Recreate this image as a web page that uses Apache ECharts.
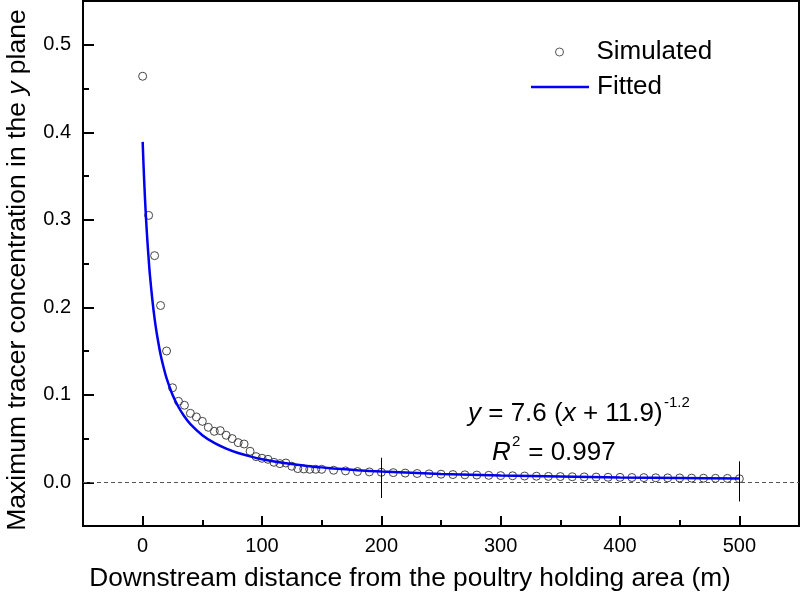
<!DOCTYPE html>
<html>
<head>
<meta charset="utf-8">
<script src="https://cdn.jsdelivr.net/npm/echarts@6/dist/echarts.min.js"></script>
<style>html,body{margin:0;padding:0;background:#fff}#c{width:800px;height:600px}</style>
</head>
<body>
<div id="c"></div>
<script>
// Simulated points (x in m, y = max tracer concentration)
const simX = [0,5,10,15,20,25,30,35,40,45,50,55,60,65,70,75,80,85,90,95,100,105,110,115,120,125,130,135,140,145,150,
  160,170,180,190,200,210,220,230,240,250,260,270,280,290,300,310,320,330,340,350,360,370,380,390,400,410,420,430,440,450,460,470,480,490,500];
const simY = [0.464,0.305,0.259,0.202,0.150,0.108,0.0925,0.088,0.0788,0.0746,0.0696,0.0628,0.0582,0.059,0.0537,0.0499,0.0453,0.0437,0.0354,0.0293,0.0274,0.0262,0.0228,0.0213,0.022,0.0183,0.0156,0.0152,0.0148,0.0148,0.0148,
  0.0137,0.013,0.0122,0.0118,0.0114,0.0110,0.0105,0.0100,0.0096,0.0092,0.0088,0.0085,0.0082,0.0079,0.0076,0.0074,0.0071,0.0069,0.0067,0.0065,0.0063,0.0061,0.0059,0.0057,0.0056,0.0054,0.0053,0.0051,0.0050,0.0049,0.0047,0.0046,0.0045,0.0044,0.0040];
// Fitted curve samples
const fitX = [0,1,2,3,4,5,6,8,10,12,15,18,20,25,30,35,40,50,60,70,80,90,100,120,140,150,160,180,200,250,300,350,400,450,500];
const fitY = [0.389,0.353,0.323,0.297,0.275,0.2555,0.238,0.210,0.187,0.1685,0.146,0.1288,0.119,0.100,0.086,0.0751,0.0665,0.0538,0.0450,0.0385,0.0335,0.0296,0.0264,0.0217,0.0183,0.0170,0.0158,0.0138,0.0123,0.0095,0.0077,0.0065,0.0055,0.0048,0.0043];
// Vertical marker segments [x, yLow, yHigh]
const markers = [[200,-0.018,0.028],[500,-0.022,0.024]];
// Tick values
const xMajor = [0,100,200,300,400,500];
const xMinor = [50,150,250,350,450];
const yMajor = [0,0.1,0.2,0.3,0.4,0.5];
const yMinor = [0.05,0.15,0.25,0.35,0.45];

const FONT = 'Liberation Sans, Arial, sans-serif';
const chart = echarts.init(document.getElementById('c'), null, {renderer:'canvas'});
const tickLbl = {color:'#000', fontSize:20, fontFamily:FONT};
const baseAxis = {
  splitLine:{show:false}, axisLine:{show:false, onZero:false}
};
chart.setOption({
  animation:false,
  backgroundColor:'#fff',
  grid:{left:83, right:1, top:1, bottom:74, show:true, borderColor:'#000', borderWidth:2, backgroundColor:'transparent'},
  xAxis:[
    Object.assign({type:'value', min:-50, max:550, position:'bottom',
      axisTick:{show:true, inside:true, length:10, customValues:xMajor, lineStyle:{color:'#000', width:2}},
      axisLabel:Object.assign({customValues:xMajor, margin:10, formatter:v=>String(v)}, tickLbl)}, baseAxis),
    Object.assign({type:'value', min:-50, max:550, position:'bottom',
      axisTick:{show:true, inside:true, length:6, customValues:xMinor, lineStyle:{color:'#000', width:2}},
      axisLabel:{show:false}}, baseAxis)
  ],
  yAxis:[
    Object.assign({type:'value', min:-0.05, max:0.55, position:'left',
      axisTick:{show:true, inside:true, length:11, customValues:yMajor, lineStyle:{color:'#000', width:2}},
      axisLabel:Object.assign({customValues:yMajor, margin:12, formatter:v=>v.toFixed(1)}, tickLbl)}, baseAxis),
    Object.assign({type:'value', min:-0.05, max:0.55, position:'left',
      axisTick:{show:true, inside:true, length:6, customValues:yMinor, lineStyle:{color:'#000', width:2}},
      axisLabel:{show:false}}, baseAxis)
  ],
  legend:[
    {
      left:555, top:39, padding:0, itemWidth:58, itemHeight:8,
      textStyle:{fontSize:26, fontFamily:FONT, color:'#000', lineHeight:26, padding:[0,0,0,3]},
      data:[{name:'Simulated', icon:'circle', itemStyle:{color:'rgba(255,255,255,0)', borderColor:'#555', borderWidth:1}}]
    },
    {
      left:531, top:74, padding:0, itemWidth:58, itemHeight:2.5,
      textStyle:{fontSize:26, fontFamily:FONT, color:'#000', lineHeight:26, padding:[0,0,0,3]},
      data:[{name:'Fitted', icon:'rect', itemStyle:{color:'#0000f0'}}]
    }
  ],
  series:[
    {
      name:'Simulated', type:'scatter', xAxisIndex:0, yAxisIndex:0,
      symbol:'circle', symbolSize:8,
      itemStyle:{color:'rgba(255,255,255,0)', borderColor:'#444', borderWidth:1, opacity:1},
      data: simX.map((x,i)=>[x, simY[i]]),
      markLine:{silent:true, symbol:'none', label:{show:false},
        lineStyle:{type:'solid', color:'#000', width:1},
        data: markers.map(m=>[{coord:[m[0],m[1]]},{coord:[m[0],m[2]]}])}
    },
    {
      name:'Fitted', type:'line', xAxisIndex:0, yAxisIndex:0,
      showSymbol:false, symbol:'none', smooth:0.3,
      lineStyle:{color:'#0000f0', width:2.5}, itemStyle:{color:'#0000f0'},
      data: fitX.map((x,i)=>[x, fitY[i]]),
      markLine:{silent:true, symbol:'none', label:{show:false},
        lineStyle:{type:[4,3], color:'#555', width:1},
        data:[{yAxis:0}]}
    }
  ],
  graphic:[
    {type:'text', x:410, y:579, style:{text:'Downstream distance from the poultry holding area (m)', fontSize:26.3, fontFamily:FONT, fill:'#000', align:'center', verticalAlign:'middle'}},
    {type:'text', x:18, y:270, rotation:Math.PI/2, style:{text:'Maximum tracer concentration in the {i|y} plane', fontSize:26.5, fontFamily:FONT, fill:'#000', align:'center', verticalAlign:'middle',
      rich:{i:{fontStyle:'italic', fontSize:26.5, fontFamily:FONT, fill:'#000'}}}},
    {type:'text', x:468, y:414, style:{text:'{i|y} = 7.6 ({i|x} + 11.9)', fontSize:26, fontFamily:FONT, fill:'#000', align:'left', verticalAlign:'middle',
      rich:{i:{fontStyle:'italic', fontSize:26, fontFamily:FONT, fill:'#000'}}}},
    {type:'text', x:664, y:403, style:{text:'-1.2', fontSize:15, fontFamily:FONT, fill:'#000', align:'left', verticalAlign:'middle'}},
    {type:'text', x:492, y:453, style:{text:'R', fontSize:26, fontStyle:'italic', fontFamily:FONT, fill:'#000', align:'left', verticalAlign:'middle'}},
    {type:'text', x:512, y:442, style:{text:'2', fontSize:15, fontFamily:FONT, fill:'#000', align:'left', verticalAlign:'middle'}},
    {type:'text', x:521, y:453, style:{text:' = 0.997', fontSize:26, fontFamily:FONT, fill:'#000', align:'left', verticalAlign:'middle'}}
  ]
});
</script>
</body>
</html>
